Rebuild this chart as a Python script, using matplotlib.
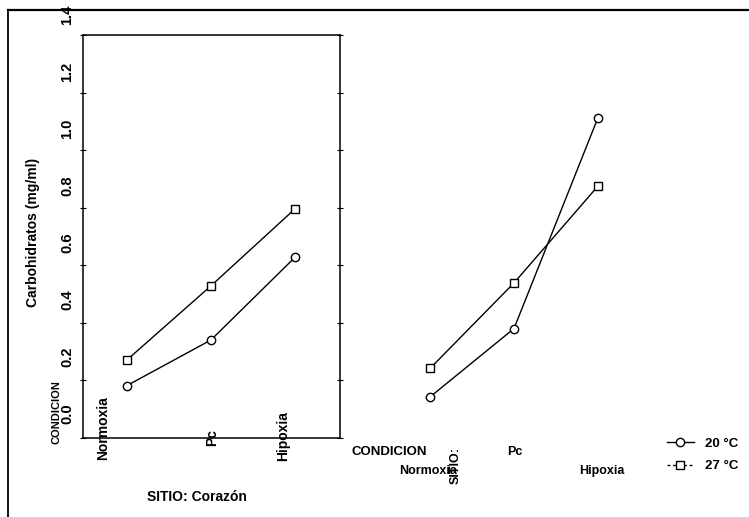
import numpy as np
import matplotlib
matplotlib.use('Agg')
import matplotlib.pyplot as plt
from matplotlib.lines import Line2D

plt.rcParams['font.family'] = ['Liberation Sans', 'DejaVu Sans']
plt.rcParams['font.weight'] = 'bold'

condiciones = ['Normoxia', 'Pc', 'Hipoxia']
y_ticks = [0.0, 0.2, 0.4, 0.6, 0.8, 1.0, 1.2, 1.4]
y_tick_labels = ['0.0', '0.2', '0.4', '0.6', '0.8', '1.0', '1.2', '1.4']

# SITIO: Corazon (panel izquierdo)
corazon_20 = [0.10, 0.26, 0.55]
corazon_27 = [0.19, 0.45, 0.72]
# segundo sitio (panel derecho)
sitio2_20 = [0.06, 0.30, 1.04]
sitio2_27 = [0.16, 0.46, 0.80]

W, H = 749, 517
fig = plt.figure(figsize=(W / 100, H / 100), dpi=100)


def px_box(x0, y0, x1, y1):
    return [x0 / W, 1 - y1 / H, (x1 - x0) / W, (y1 - y0) / H]


ylim = (-0.084, 1.33)
xlim = (-0.524, 2.536)
x = np.arange(len(condiciones))

ax = fig.add_axes(px_box(83, 35, 340, 438))
ax2 = fig.add_axes(px_box(386, 35, 643, 438))

line_kw = dict(color='black', lw=1.0, mfc='white', mec='black', mew=1.0)
for a, s20, s27 in ((ax, corazon_20, corazon_27), (ax2, sitio2_20, sitio2_27)):
    a.plot(x, s20, marker='o', ms=6, **line_kw)
    a.plot(x, s27, marker='s', ms=5.5, **line_kw)
    a.set_xlim(*xlim)
    a.set_ylim(*ylim)
    a.set_xticks([])
    a.set_yticks([])

# caja del panel izquierdo con marcas sobre los lados
for sp in ax.spines.values():
    sp.set_linewidth(1.1)
ax.set_yticks(np.linspace(ylim[0], ylim[1], 8))
ax.set_yticklabels([])
ax.tick_params(axis='y', direction='inout', length=4, width=0.8, left=True, right=True)

for sp in ax2.spines.values():
    sp.set_visible(False)

# etiquetas del eje y (desplazadas como en el original)
ytr = ax.get_yaxis_transform()
for v, lab in zip(y_ticks, y_tick_labels):
    ax.text(-0.062, v, lab, transform=ytr, rotation=90, ha='center', va='center',
            fontsize=10.5, fontweight='bold')
ax.text(-0.195, 0.511, 'Carbohidratos (mg/ml)', transform=ax.transAxes, rotation=90,
        ha='center', va='center', fontsize=10, fontweight='bold')
ax.text(-0.103, 0.065, 'CONDICION', transform=ax.transAxes, rotation=90,
        ha='center', va='center', fontsize=8, fontweight='bold')

# categorias del panel izquierdo (rotadas)
xtr = ax.get_xaxis_transform()
left_dx = [-0.29, 0.01, -0.14]
left_dy = [0.025, 0.0, 0.005]
for i, lab in enumerate(condiciones):
    ax.text(x[i] + left_dx[i], left_dy[i], lab, transform=xtr, rotation=90,
            ha='center', va='center', fontsize=10, fontweight='bold')
ax.text(0.444, -0.146, 'SITIO: Corazón', transform=ax.transAxes,
        ha='center', va='center', fontsize=10, fontweight='bold')

# categorias del panel derecho (escalonadas)
xtr2 = ax2.get_xaxis_transform()
right_dx = [-0.02, 0.01, 0.05]
right_dy = [-0.082, -0.035, -0.082]
for i, lab in enumerate(condiciones):
    ax2.text(x[i] + right_dx[i], right_dy[i], lab, transform=xtr2,
             ha='center', va='center', fontsize=9, fontweight='bold')
ax2.text(-0.49, -0.035, 'CONDICION', transform=xtr2,
         ha='center', va='center', fontsize=9.5, fontweight='bold')
ax2.text(0.30, -0.067, 'SITIO:', transform=xtr2, rotation=90,
         ha='center', va='center', fontsize=9, fontweight='bold')

# leyenda
handles = [Line2D([], [], color='black', lw=1.0, marker='o', ms=6, mfc='white', mec='black'),
           Line2D([], [], color='black', lw=1.0, ls=(0, (2, 2)), marker='s', ms=5.5,
                  mfc='white', mec='black')]
fig.legend(handles, ['20 °C', '27 °C'], loc='center', bbox_to_anchor=(703 / W, 1 - 455 / H),
           frameon=False, handlelength=2.0, handletextpad=0.9,
           labelspacing=0.75, prop={'weight': 'bold', 'size': 9.5})

# marco exterior del escaneo
fig.add_artist(Line2D([8 / W, 8 / W], [0, 1 - 10 / H], color='black', lw=1.3,
                      transform=fig.transFigure))
fig.add_artist(Line2D([8 / W, 1], [1 - 10 / H, 1 - 10 / H], color='black', lw=1.6,
                      transform=fig.transFigure))

fig.savefig('out.png', dpi=100)
